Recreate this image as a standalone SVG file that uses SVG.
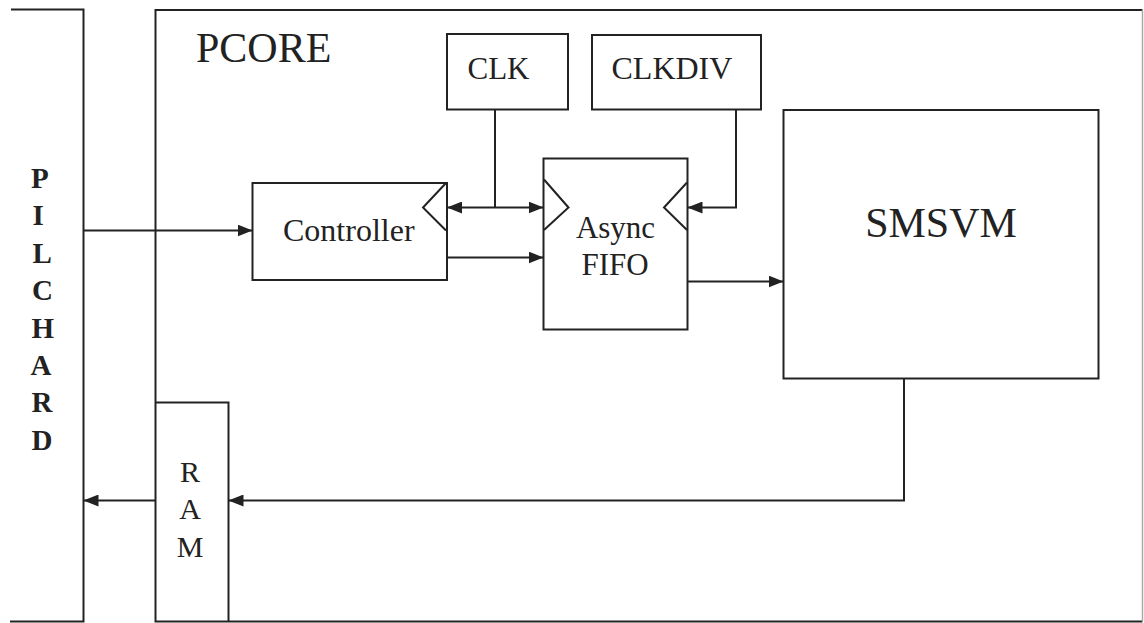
<svg xmlns="http://www.w3.org/2000/svg" width="1144" height="623" viewBox="0 0 1144 623">
  <style>
    .ln { fill: none; stroke: #222; stroke-width: 2; }
    .box { fill: none; stroke: #222; stroke-width: 2; }
    .t { font-family: "Liberation Serif", "Times New Roman", serif; fill: #222; }
    .b { font-weight: bold; }
  </style>
  <defs>
    <marker id="ah" viewBox="0 0 15 12" refX="15" refY="6" markerWidth="15" markerHeight="12" markerUnits="userSpaceOnUse" orient="auto-start-reverse">
      <path d="M0,0 L15,6 L0,12 z" fill="#222"/>
    </marker>
  </defs>
  <rect width="1144" height="623" fill="#fff"/>

  <g id="pilchard">
    <path class="ln" d="M11,9.5 H83.5 V621.5 H10"/>
    <text class="t b" font-size="29" x="31" y="188">P</text>
    <text class="t b" font-size="29" x="32.5" y="225.4">I</text>
    <text class="t b" font-size="29" x="32.5" y="262.8">L</text>
    <text class="t b" font-size="29" x="32" y="300.2">C</text>
    <text class="t b" font-size="29" x="31.5" y="337.6">H</text>
    <text class="t b" font-size="29" x="30.5" y="375">A</text>
    <text class="t b" font-size="29" x="31.5" y="412.4">R</text>
    <text class="t b" font-size="29" x="31.5" y="449.8">D</text>
  </g>

  <g id="pcore">
    <path class="ln" d="M1142.5,10 H155.5 V621.5 H1142.5"/>
    <path d="M1142.5,10 V621.5" fill="none" stroke="#aaa" stroke-width="1.5"/>
    <text class="t" font-size="42" x="196" y="62">PCORE</text>
  </g>

  <g id="clk">
    <rect class="box" x="447" y="34" width="121" height="75.5"/>
    <text class="t" font-size="31" x="467.5" y="78.5">CLK</text>
  </g>

  <g id="clkdiv">
    <rect class="box" x="592" y="35" width="169" height="74.5"/>
    <text class="t" font-size="32" x="611.5" y="78.5">CLKDIV</text>
  </g>

  <g id="controller">
    <rect class="box" x="252.5" y="183" width="194.5" height="97"/>
    <polyline class="ln" points="446,183 423,207.5 446,230.5"/>
    <text class="t" font-size="32" x="283" y="240.5">Controller</text>
  </g>

  <g id="fifo">
    <rect class="box" x="543.5" y="158.5" width="144" height="171"/>
    <polyline class="ln" points="544,179.5 568.5,207.5 544,230"/>
    <polyline class="ln" points="687,182.5 664,207.5 687,230"/>
    <text class="t" font-size="31" x="615.5" y="237.5" text-anchor="middle">Async</text>
    <text class="t" font-size="31" x="615" y="275" text-anchor="middle">FIFO</text>
  </g>

  <g id="smsvm">
    <rect class="box" x="783.5" y="110" width="315" height="268.5"/>
    <text class="t" font-size="42" x="941" y="236.5" text-anchor="middle">SMSVM</text>
  </g>

  <g id="ram">
    <path class="ln" d="M155.5,402.5 H228.5 V621.5"/>
    <text class="t" font-size="30" x="190" y="481.5" text-anchor="middle">R</text>
    <text class="t" font-size="30" x="190" y="518.5" text-anchor="middle">A</text>
    <text class="t" font-size="30" x="190" y="556.5" text-anchor="middle">M</text>
  </g>

  <g id="connectors">
    <path class="ln" d="M83.5,230.5 H252.5" marker-end="url(#ah)"/>
    <path class="ln" d="M447,207.5 H543.5" marker-start="url(#ah)" marker-end="url(#ah)"/>
    <path class="ln" d="M495,109.5 V207.5"/>
    <path class="ln" d="M447,257.5 H543.5" marker-end="url(#ah)"/>
    <path class="ln" d="M736,109.5 V207.5 H687.5" marker-end="url(#ah)"/>
    <path class="ln" d="M687.5,281.5 H783.5" marker-end="url(#ah)"/>
    <path class="ln" d="M904,378.5 V500.5 H228.5" marker-end="url(#ah)"/>
    <path class="ln" d="M155.5,500.5 H83.5" marker-end="url(#ah)"/>
  </g>
</svg>
